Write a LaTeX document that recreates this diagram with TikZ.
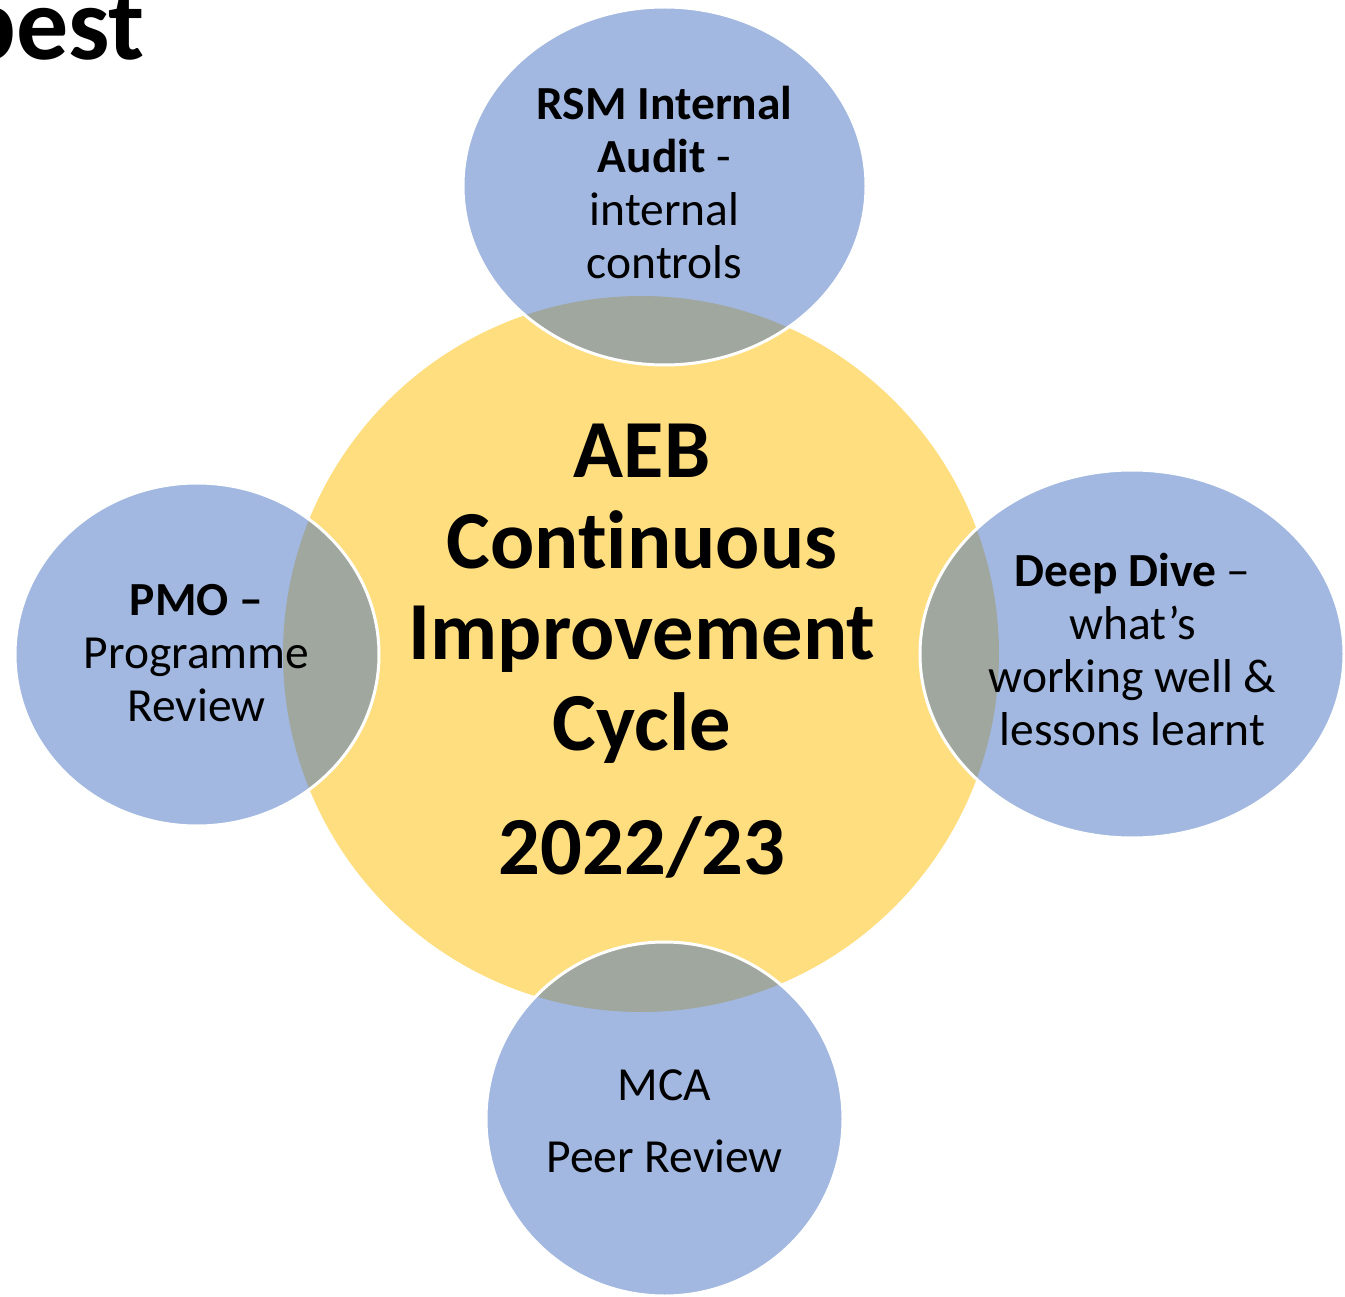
\documentclass[tikz,border=0pt]{standalone}
\usepackage{fontspec}
\setmainfont[Ligatures=NoCommon]{Carlito}
\usetikzlibrary{shapes.geometric}
\definecolor{cyellow}{HTML}{FFDE80}
\definecolor{cblue}{HTML}{A2B8E0}
\definecolor{cgrey}{HTML}{A0A79F}
\tikzset{
  hubshape/.style={circle, fill=cyellow, inner sep=0, minimum size=716},
  petal/.style={ellipse, fill=cblue, inner sep=0},
  petaltext/.style={align=center, anchor=base, font=\fontsize{47.5}{53}\selectfont},
  rim/.style={draw=white, line width=3}
}
\begin{document}
\begin{tikzpicture}[x=1pt,y=-1pt]
\useasboundingbox (0,0) rectangle (1345,1297);
\node[anchor=base east, inner sep=0, font=\fontsize{104}{120}\selectfont\bfseries] (best) at (145,60) {best};
% hub
\node[hubshape] (hub) at (641,654) {};
% petals
\node[petal, minimum width=403, minimum height=358] (top) at (664.5,186) {};
\node[petal, minimum width=364, minimum height=343] (left) at (197,654.5) {};
\node[petal, minimum width=424, minimum height=368] (right) at (1132,654) {};
\node[petal, minimum width=357, minimum height=354] (bottom) at (664.5,1119) {};
% overlaps
\begin{scope}
  \clip (hub.center) circle[radius=358];
  \fill[cgrey] (top.center) ellipse[x radius=201.5, y radius=179];
  \fill[cgrey] (left.center) ellipse[x radius=182, y radius=171.5];
  \fill[cgrey] (right.center) ellipse[x radius=212, y radius=184];
  \fill[cgrey] (bottom.center) ellipse[x radius=178.5, y radius=177];
\end{scope}
% white rims
\draw[rim] (top.center) ellipse[x radius=201.5, y radius=179];
\draw[rim] (left.center) ellipse[x radius=182, y radius=171.5];
\draw[rim] (right.center) ellipse[x radius=212, y radius=184];
\draw[rim] (bottom.center) ellipse[x radius=178.5, y radius=177];
% texts
\node[align=center, anchor=base, font=\fontsize{82.5}{91}\selectfont\bfseries] (hubtext) at (642,874)
  {AEB\\Continuous\\Improvement\\Cycle\\[33pt]2022/23};
\node[petaltext] (toptext) at (664.5,279) {\textbf{RSM Internal}\\\textbf{Audit} -\\internal\\controls};
\node[petaltext] (lefttext) at (196.5,721) {\textbf{PMO –}\\Programme\\Review};
\node[petaltext] (righttext) at (1132.5,745) {\textbf{Deep Dive} –\\what’s\\working well \&\\lessons learnt};
\node[petaltext] (bottomtext) at (664.5,1172) {MCA\\[19pt]Peer Review};
\end{tikzpicture}
\end{document}
